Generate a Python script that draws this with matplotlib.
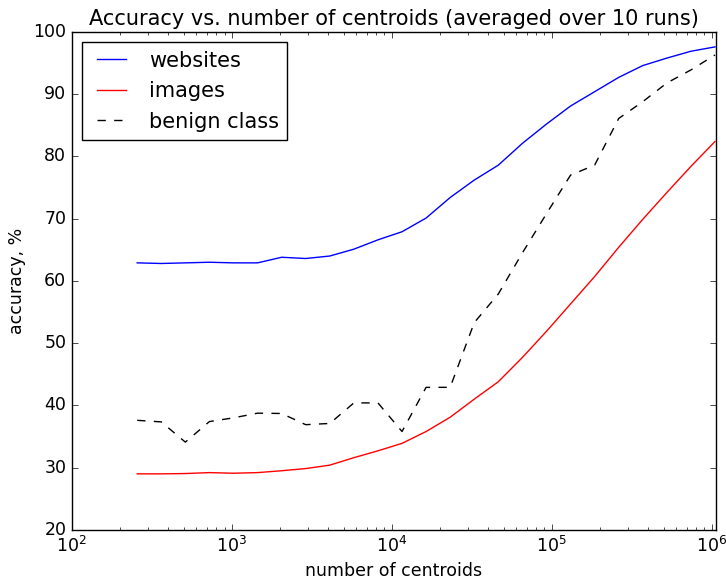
import numpy as np
import matplotlib
matplotlib.use('Agg')
import matplotlib.pyplot as plt

plt.style.use('classic')

# number of centroids: 2^8 .. 2^20 in half-octave steps
centroids = [2 ** (k / 2.0) for k in range(16, 41)]

websites = [62.9, 62.8, 62.9, 63.0, 62.9, 62.9, 63.8, 63.6, 64.0, 65.1, 66.6, 67.9,
            70.1, 73.4, 76.2, 78.6, 82.1, 85.2, 88.1, 90.4, 92.7, 94.6, 95.8, 96.9, 97.6]
images = [29.0, 29.0, 29.05, 29.2, 29.1, 29.2, 29.5, 29.85, 30.4, 31.6, 32.7, 33.9,
          35.8, 38.1, 41.0, 43.8, 47.7, 51.9, 56.3, 60.7, 65.4, 69.9, 74.2, 78.4, 82.4]
benign = [37.6, 37.35, 34.1, 37.4, 38.0, 38.75, 38.7, 36.9, 37.1, 40.4, 40.4, 35.8,
          42.9, 42.9, 53.3, 57.9, 64.5, 70.8, 77.0, 78.6, 86.1, 88.8, 91.8, 93.9, 96.3]

fig = plt.figure(figsize=(7.26, 5.81), dpi=100, facecolor='white')
ax = fig.add_axes([0.099, 0.088, 0.887, 0.857])

ax.plot(centroids, websites, color='b', label='websites')
ax.plot(centroids, images, color='r', label='images')
ax.plot(centroids, benign, 'k--', label='benign class')

ax.set_xscale('log')
ax.set_xlim(100, 2 ** 20 * 1.012)
ax.set_ylim(20, 100)

ax.set_title('Accuracy vs. number of centroids (averaged over 10 runs)', fontsize=15)
ax.set_xlabel('number of centroids', fontsize=12.5)
ax.set_ylabel('accuracy, %', fontsize=12.5)
ax.tick_params(labelsize=12.5)

ax.legend(loc='upper left', fontsize=15)

fig.savefig('out.png', dpi=100, facecolor='white')
